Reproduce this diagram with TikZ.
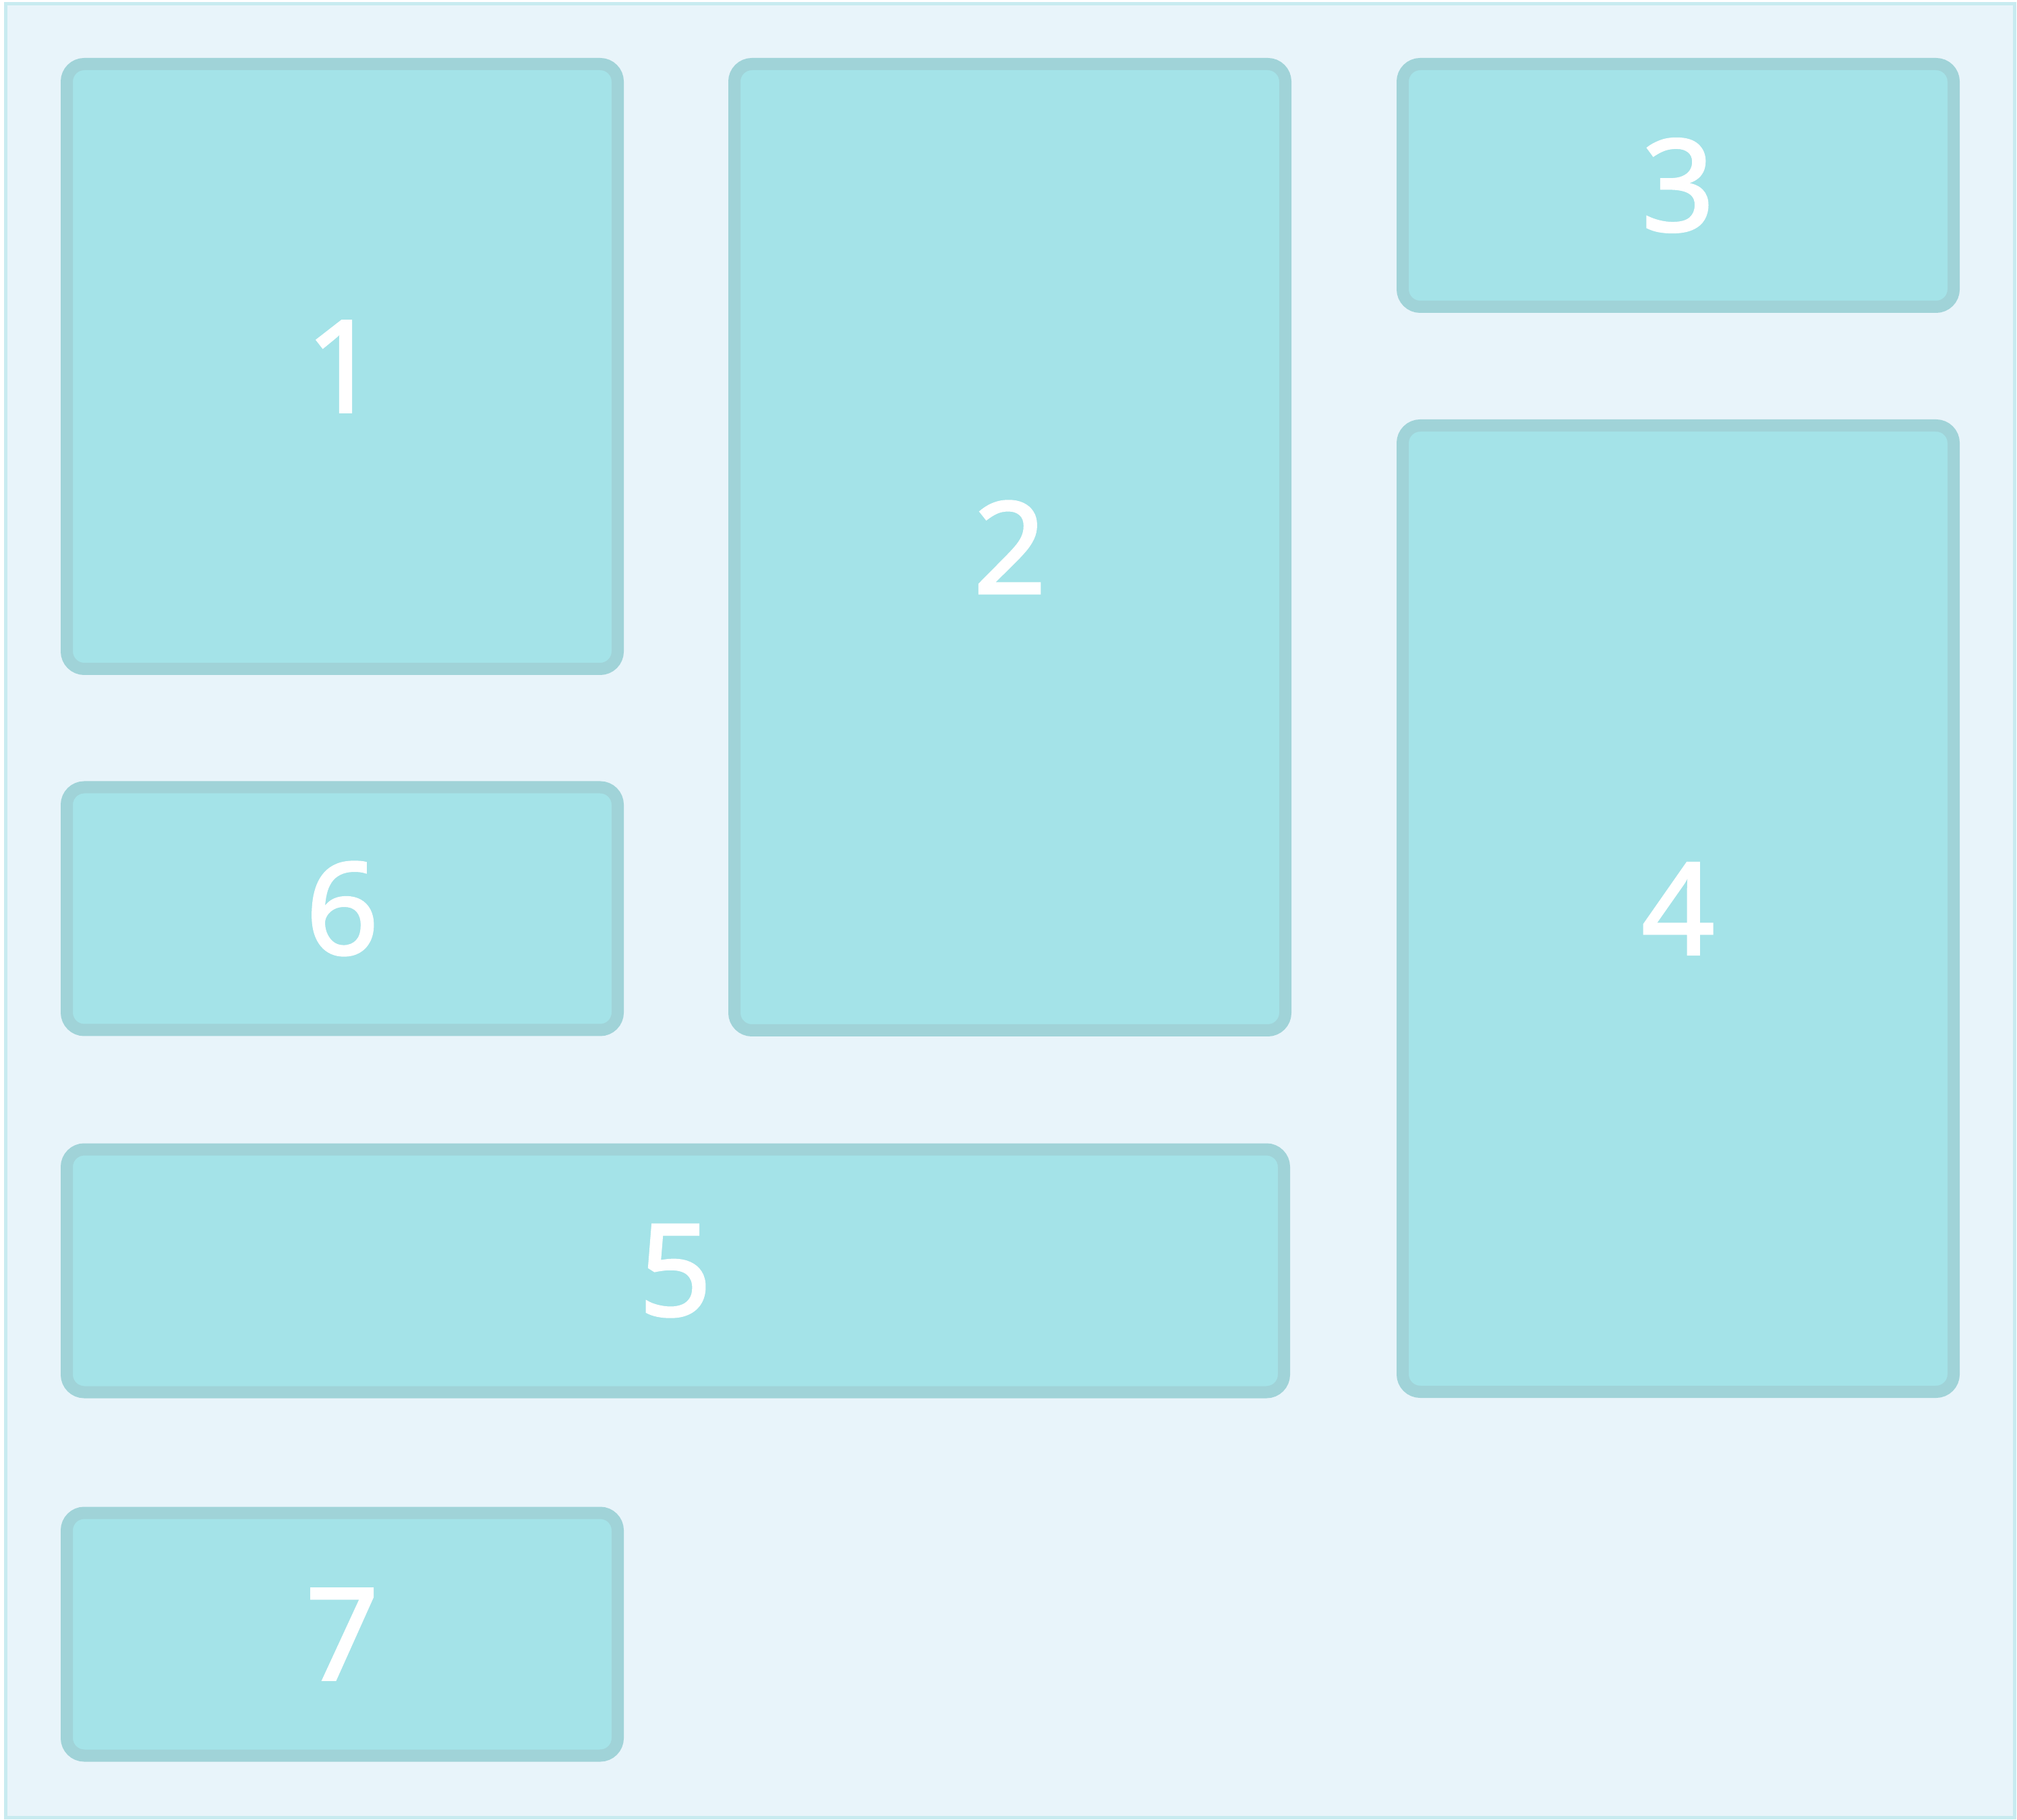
\documentclass[tikz,border=0pt]{standalone}
\usepackage{fontspec}
\newfontfamily\tilefont{Noto Sans}[FakeBold=1.6]
\usepackage{tikz}

\definecolor{pagebg}{HTML}{E8F4FA}
\definecolor{pageline}{HTML}{C8EBF0}
\definecolor{tilefill}{HTML}{A4E3E8}
\definecolor{tileline}{HTML}{A0D3D8}

\begin{document}
\begin{tikzpicture}[
    tile/.style={draw=tileline, fill=tilefill, line width=0.18cm,
                 rounded corners=0.26cm, inner sep=0pt, text=white,
                 font=\tilefont\fontsize{54}{60}\selectfont,
                 minimum width=8.17cm, minimum height=3.6cm}
  ]
  % 画布与外框
  \useasboundingbox (0,0) rectangle (29.91,26.98);
  \draw[pageline, fill=pagebg, line width=0.05cm] (0.09,0.03) rectangle (29.87,26.92);

  % 第一列
  \node[tile, minimum height=8.97cm] (t1) at (5.075,21.545) {1};
  \node[tile] (t6) at (5.075,13.505) {6};
  \node[tile] (t7) at (5.075,2.745) {7};

  % 第二列
  \node[tile, minimum height=14.33cm] (t2) at (14.975,18.865) {2};

  % 第三列
  \node[tile] (t3) at (24.885,24.23) {3};
  \node[tile, minimum height=14.33cm] (t4) at (24.885,13.505) {4};

  % 横跨两列
  \node[tile, minimum width=18.05cm] (t5) at (10.015,8.135) {5};
\end{tikzpicture}
\end{document}
